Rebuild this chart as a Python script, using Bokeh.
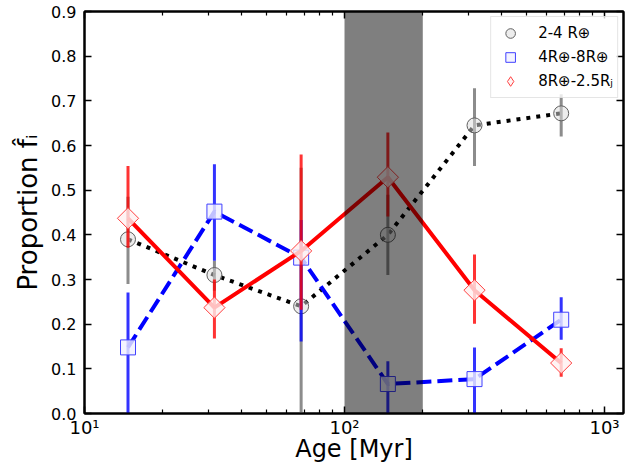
import numpy as np
from bokeh.plotting import figure
from bokeh.models import (Range1d, LogAxis, LinearAxis, FixedTicker, BoxAnnotation,
                          Legend, LegendItem, PrintfTickFormatter)
from bokeh.embed import file_html
from bokeh.resources import INLINE

# ---- data ----
ages = [14.7, 31.6, 68.1, 146.8, 316.2, 681.3]

small_frac = [0.39, 0.31, 0.24, 0.40, 0.645, 0.672]
small_low = [0.29, 0.275, 0.0, 0.31, 0.554, 0.62]
small_high = [0.485, 0.342, 0.55, 0.49, 0.728, 0.715]

mid_frac = [0.148, 0.452, 0.349, 0.066, 0.077, 0.21]
mid_low = [0.0, 0.342, 0.161, 0.0, 0.0, 0.165]
mid_high = [0.271, 0.558, 0.433, 0.117, 0.148, 0.26]

large_frac = [0.437, 0.237, 0.364, 0.529, 0.276, 0.113]
large_low = [0.371, 0.168, 0.232, 0.441, 0.201, 0.082]
large_high = [0.554, 0.30, 0.58, 0.629, 0.356, 0.146]

series_labels = ["2-4 R⊕", "4R⊕-8R⊕", "8R⊕-2.5Rⱼ"]

shade_range = [100, 200]

x_ticks = [10, 100, 1000]
x_tick_labels = ["10¹", "10²", "10³"]
x_minor = [m * 10 ** e for e in (1, 2) for m in range(2, 10)]
y_ticks = [0.0, 0.1, 0.2, 0.3, 0.4, 0.5, 0.6, 0.7, 0.8, 0.9]

FONT = "DejaVu Sans"

p = figure(width=636, height=465, x_axis_type="log",
           x_range=Range1d(10, 1183), y_range=Range1d(0, 0.9),
           output_backend="svg", toolbar_location=None,
           min_border_left=84, min_border_right=13,
           min_border_top=11, min_border_bottom=52)
p.xgrid.visible = False
p.ygrid.visible = False
p.outline_line_color = "black"
p.outline_line_width = 2
p.background_fill_color = "white"
p.border_fill_color = "white"


def style_axis(ax):
    ax.axis_line_width = 2
    ax.axis_line_color = "black"
    ax.major_tick_in = 7
    ax.major_tick_out = 0
    ax.minor_tick_in = 4
    ax.minor_tick_out = 0
    ax.major_tick_line_width = 1.5
    ax.minor_tick_line_width = 1.2
    ax.major_tick_line_color = "black"
    ax.minor_tick_line_color = "black"
    ax.major_label_text_color = "black"
    ax.axis_label_text_color = "black"


xb = p.xaxis[0]
xb.ticker = FixedTicker(ticks=x_ticks, minor_ticks=x_minor)
xb.major_label_overrides = dict(zip(x_ticks, x_tick_labels))
xb.major_label_text_font = FONT
xb.major_label_text_font_size = "18px"
xb.major_label_standoff = 3
xb.axis_label = "Age [Myr]"
xb.axis_label_text_font = FONT
xb.axis_label_text_font_size = "24px"
xb.axis_label_text_font_style = "normal"
xb.axis_label_standoff = -6
style_axis(xb)

yl = p.yaxis[0]
yl.ticker = FixedTicker(ticks=y_ticks)
yl.formatter = PrintfTickFormatter(format="%.1f")
yl.major_label_text_font = FONT
yl.major_label_text_font_size = "16px"
yl.major_label_standoff = 8
yl.axis_label = "Proportion f̂ᵢ"
yl.axis_label_text_font = FONT
yl.axis_label_text_font_size = "26px"
yl.axis_label_text_font_style = "normal"
yl.axis_label_standoff = 5
style_axis(yl)

xt = LogAxis(ticker=FixedTicker(ticks=x_ticks, minor_ticks=x_minor),
             major_label_overrides={t: "" for t in x_ticks},
             major_label_standoff=0)
style_axis(xt)
p.add_layout(xt, "above")

yr = LinearAxis(ticker=FixedTicker(ticks=y_ticks),
                major_label_overrides={t: "" for t in y_ticks},
                major_label_standoff=0)
style_axis(yr)
p.add_layout(yr, "right")

# ---- series ----
# 2-4 R_earth
p.line(ages, small_frac, line_color="black", line_width=4, line_dash="4 6")
p.segment(x0=ages, y0=small_low, x1=ages, y1=small_high,
          line_color="#808080", line_width=3, line_alpha=0.9)
r_small = p.scatter(ages, small_frac, marker="circle", size=15,
                    fill_color="#dcdcdc", fill_alpha=0.5,
                    line_color="#606060", line_width=1)

# 4-8 R_earth
p.line(ages, mid_frac, line_color="blue", line_width=4, line_dash="15 6")
p.segment(x0=ages, y0=mid_low, x1=ages, y1=mid_high,
          line_color="blue", line_width=3, line_alpha=0.8)
r_mid = p.scatter(ages, mid_frac, marker="square", size=15,
                  fill_color="#f0f0ff", fill_alpha=0.8,
                  line_color="#4040ff", line_width=1)

# 8 R_earth - 2.5 R_J
p.line(ages, large_frac, line_color="red", line_width=4)
p.segment(x0=ages, y0=large_low, x1=ages, y1=large_high,
          line_color="red", line_width=3, line_alpha=0.8)
r_large = p.scatter(ages, large_frac, marker="square", angle=np.pi / 4, size=15,
                    fill_color="#fff0f0", fill_alpha=0.8,
                    line_color="#ff4040", line_width=1)
# legend-only diamond (size 0: draws nothing in the plot)
r_large_leg = p.scatter(ages, large_frac, marker="diamond", size=0,
                        fill_color="#fff0f0", fill_alpha=0.8,
                        line_color="#ff4040", line_width=1)

# shaded age band drawn over everything
p.add_layout(BoxAnnotation(left=shade_range[0], right=shade_range[1],
                           fill_color="black", fill_alpha=0.5, line_color=None))

legend = Legend(items=[LegendItem(label=series_labels[0], renderers=[r_small]),
                       LegendItem(label=series_labels[1], renderers=[r_mid]),
                       LegendItem(label=series_labels[2], renderers=[r_large_leg])],
                location="top_right", margin=5, padding=4, spacing=0,
                glyph_width=30, glyph_height=24, label_height=20, label_standoff=13,
                label_text_font=FONT, label_text_font_size="15px",
                label_text_color="black",
                border_line_color="#cccccc", border_line_width=1,
                background_fill_alpha=0.8)
p.add_layout(legend)

open("out.html", "w").write(file_html(p, INLINE))
